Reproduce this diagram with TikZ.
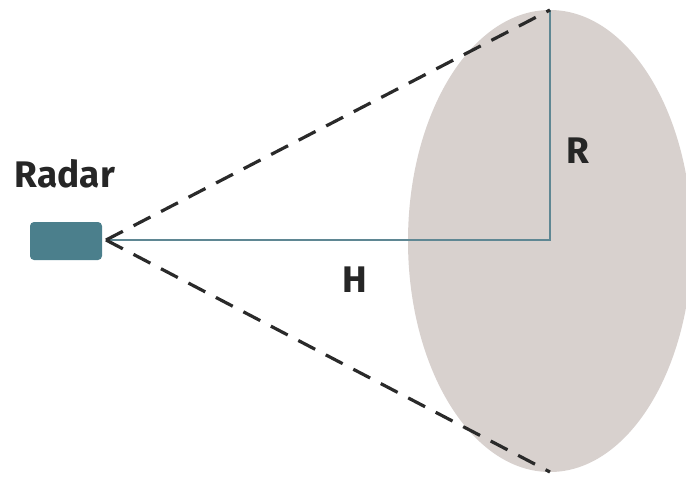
\documentclass[tikz,border=0pt]{standalone}
\usepackage{fontspec}
\setmainfont{Fira Sans}
\definecolor{disc}{HTML}{D8D1CE}
\definecolor{radarc}{HTML}{4B7F8C}
\definecolor{linec}{HTML}{5F8793}
\definecolor{dashc}{HTML}{2A2A2A}
\tikzset{
  beam/.style={draw=dashc, line width=3.2pt, dash pattern=on 19pt off 12pt},
  axis/.style={draw=linec, line width=2.5pt},
  lbl/.style={font=\fontsize{37}{40}\selectfont\bfseries, text=black!85, inner sep=0pt},
  radarbox/.style={fill=radarc, rounded corners=4pt, minimum width=72pt, minimum height=38pt, inner sep=0pt}
}
\begin{document}
\begin{tikzpicture}[x=1pt,y=-1pt]
\useasboundingbox (0,0) rectangle (686,477);
\fill[disc] (550,241) ellipse [x radius=142, y radius=231];
\node[radarbox] (radar) at (66,241) {};
\coordinate (apex) at (106,240);
\coordinate (top) at (550,10);
\coordinate (bot) at (550,472);
\coordinate (ctr) at (550,240);
\draw[axis] (apex) -- (ctr) -- (top);
\draw[beam] (apex) -- (top);
\draw[beam] (apex) -- (bot);
\node[lbl] (rl) at (65,174) {Radar};
\node[lbl] (R) at (578,151) {R};
\node[lbl] (H) at (355,280) {H};
\end{tikzpicture}
\end{document}
